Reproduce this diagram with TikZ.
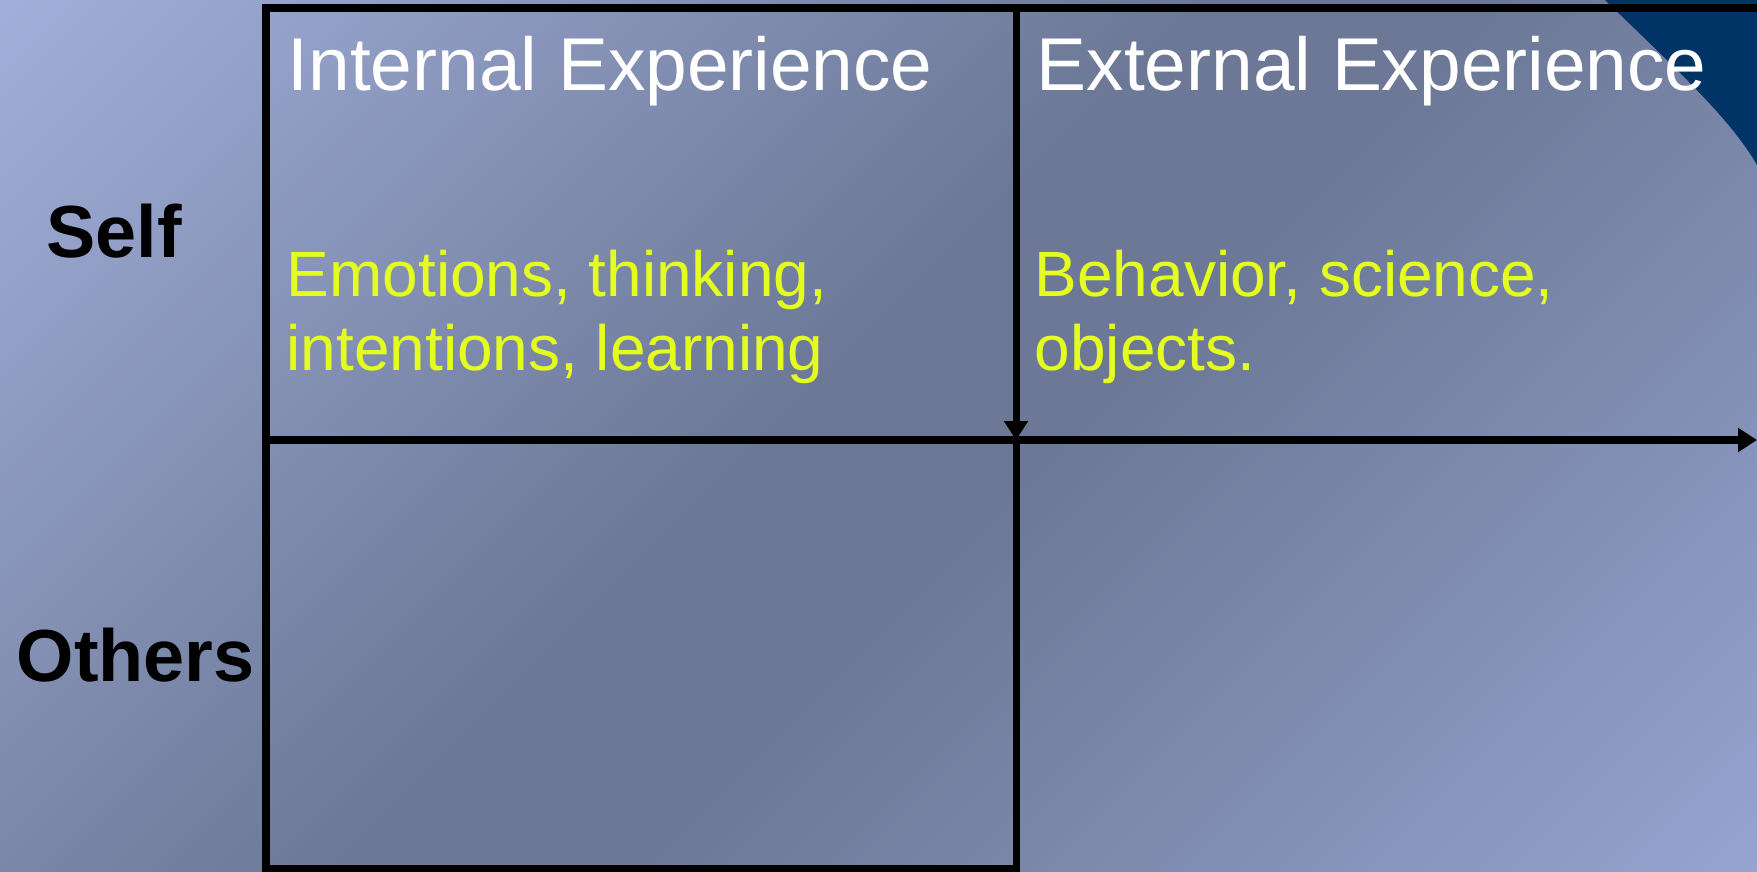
\documentclass[tikz,border=0pt]{standalone}
\usepackage{fontspec}
\setmainfont{Liberation Sans}
\usetikzlibrary{arrows.meta}

\definecolor{bgLight}{RGB}{166,179,223}
\definecolor{bgDark}{RGB}{108,120,150}
\definecolor{bgLow}{RGB}{156,170,216}
\definecolor{swoosh}{RGB}{0,51,102}
\definecolor{hilite}{RGB}{228,255,30}

\pgfdeclarehorizontalshading{bgshade}{100bp}{color(0bp)=(bgLight); color(12bp)=(bgLight); color(47bp)=(bgDark); color(55bp)=(bgDark); color(90bp)=(bgLow); color(100bp)=(bgLow)}

\tikzset{
  grid/.style={line width=2pt},
  gridarrow/.style={line width=2pt, -{Triangle[length=5.4pt,width=6.6pt]}},
  heading/.style={text=white, font=\fontsize{21.3}{25}\selectfont, anchor=base west, inner sep=0pt},
  detail/.style={text=hilite, font=\fontsize{18.2}{20.8}\selectfont, anchor=base west, inner sep=0pt, align=left},
  rowlabel/.style={font=\bfseries\fontsize{21}{25}\selectfont, anchor=base west, inner sep=0pt}
}

\begin{document}
\begin{tikzpicture}[x=0.1mm, y=-0.1mm]
    \useasboundingbox (0,0) rectangle (1757,871);
    \shade[shading=bgshade, shading angle=-45] (0,0) rectangle (1757,871);
    \fill[swoosh] (1605,0) .. controls (1675,68) and (1730,118) .. (1757,165) -- (1757,0) -- cycle;

    \coordinate (nw) at (266,8);
    \coordinate (n) at (1016,8);
    \coordinate (ne) at (1757,8);
    \coordinate (w) at (266,440);
    \coordinate (c) at (1016,440);
    \coordinate (e) at (1757,440);
    \coordinate (sw) at (266,868);
    \coordinate (s) at (1016,868);

    \draw[grid] (ne) -- (nw) -- (sw) -- (s) -- (c);
    \draw[gridarrow] (n) -- (c);
    \draw[gridarrow] (w) -- (e);

    % base of a two-line node sits on its last line
    \node[heading] (internal) at (287,90) {Internal Experience};
    \node[heading] (external) at (1036,90) {External Experience};
    \node[detail] (inner) at (286,370) {Emotions, thinking,\\intentions, learning};
    \node[detail] (outer) at (1034,370) {Behavior, science,\\objects.};
    \node[rowlabel] (self) at (46,257) {Self};
    \node[rowlabel] (others) at (16,681) {Others};
\end{tikzpicture}
\end{document}
